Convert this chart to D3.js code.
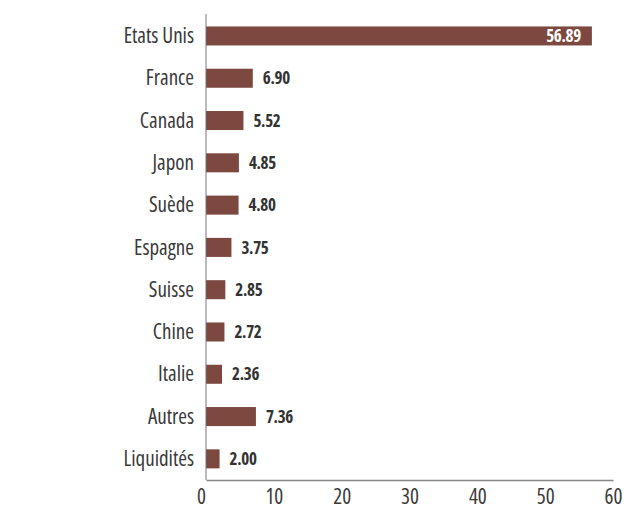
<!DOCTYPE html>
<html>
<head>
<meta charset="utf-8">
<script src="https://cdn.jsdelivr.net/npm/d3@7"></script>
<style>
  body { margin: 0; background: #fff; }
  text { font-family: "Open Sans", sans-serif; font-stretch: condensed; }
</style>
</head>
<body>
<script>
// Width and height
var w = 626;
var h = 520;

// Data
var countries = ["Etats Unis", "France", "Canada", "Japon", "Suède", "Espagne",
                 "Suisse", "Chine", "Italie", "Autres", "Liquidités"];
var weights = [56.89, 6.90, 5.52, 4.85, 4.80, 3.75, 2.85, 2.72, 2.36, 7.36, 2.00];
var xTicks = [0, 10, 20, 30, 40, 50, 60];

var barColor = "#7c4840";

// Scales
var x = d3.scaleLinear()
    .domain([0, 60])
    .range([206, 613]);

var y = d3.scaleBand()
    .domain(countries)
    .range([14.8, 480])
    .paddingInner(0.55)
    .paddingOuter(0.275);

var svg = d3.select("body")
    .append("svg")
    .attr("width", w)
    .attr("height", h);

// Bars
svg.append("g")
    .selectAll("rect")
    .data(countries)
    .enter()
    .append("rect")
    .attr("x", x(0))
    .attr("y", function (d) { return y(d); })
    .attr("width", function (d, i) { return x(weights[i]) - x(0); })
    .attr("height", y.bandwidth())
    .style("fill", barColor);

// Value labels
svg.append("g")
    .selectAll("text")
    .data(countries)
    .enter()
    .append("text")
    .attr("x", function (d, i) {
        return weights[i] > 30 ? x(weights[i]) - 11 : x(weights[i]) + 10;
    })
    .attr("y", function (d) { return y(d) + y.bandwidth() / 2; })
    .attr("dy", "0.36em")
    .attr("text-anchor", function (d, i) { return weights[i] > 30 ? "end" : "start"; })
    .style("font-size", "17px")
    .style("font-weight", "bold")
    .style("letter-spacing", "-0.3px")
    .style("fill", function (d, i) { return weights[i] > 30 ? "#fff" : "#333"; })
    .text(function (d, i) { return d3.format(".2f")(weights[i]); });

// Y axis (category labels)
var yAxis = svg.append("g")
    .attr("transform", "translate(" + x(0) + ",0)")
    .call(d3.axisLeft(y).tickSize(0).tickPadding(12));
yAxis.select(".domain").attr("d", "M0,14V480").style("stroke", "#777");
yAxis.selectAll("text")
    .attr("dy", "0.34em")
    .style("font-size", "21px")
    .style("fill", "#3a3a3a");

// X axis
var xAxis = svg.append("g")
    .attr("transform", "translate(0,480)")
    .call(d3.axisBottom(x).tickValues(xTicks).tickSize(0).tickPadding(9));
xAxis.select(".domain").style("stroke", "#888").style("stroke-width", 1.5);
xAxis.selectAll("text")
    .attr("dx", function (d) { return d === 0 ? -5 : 0; })
    .style("font-size", "21px")
    .style("fill", "#3a3a3a");
</script>
</body>
</html>
